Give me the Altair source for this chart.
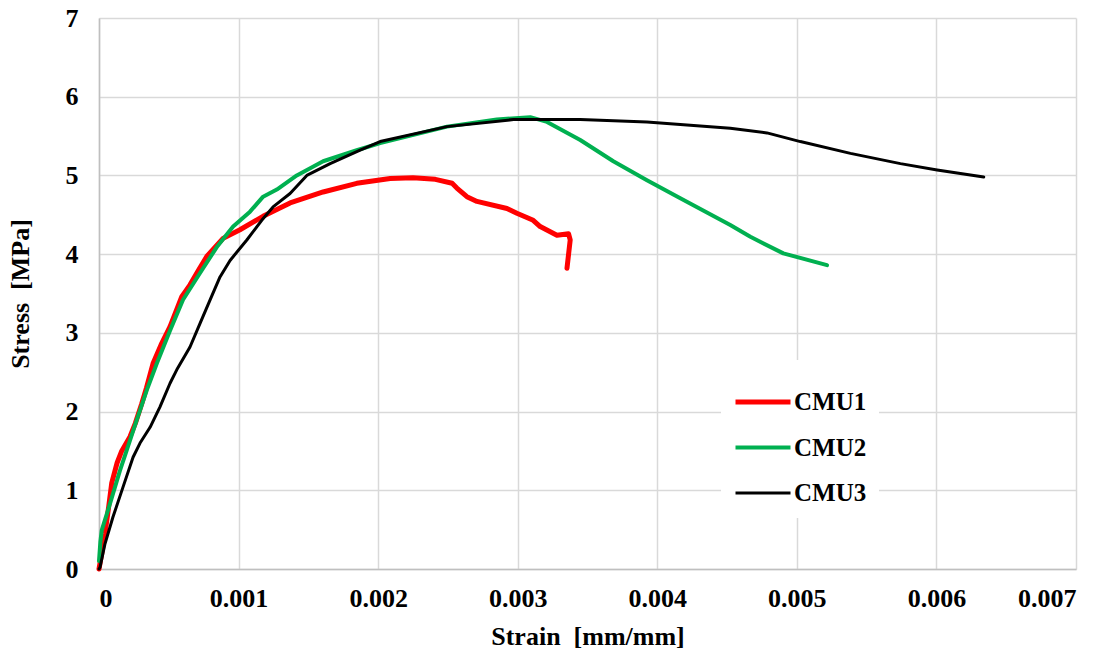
import altair as alt
import pandas as pd

# Stress-strain curves of three CMU prisms
cmu1_strain = [0, 0.00001, 0.00002, 0.000043, 0.00007, 0.000091, 0.00013, 0.000163, 0.000222,
               0.00026, 0.000306, 0.00034, 0.000387, 0.000445, 0.000509, 0.000593, 0.000652,
               0.000715, 0.000772, 0.000889, 0.00101, 0.001175, 0.001369, 0.001606, 0.001847,
               0.002086, 0.00225, 0.00241, 0.00253, 0.002564, 0.002636, 0.002708, 0.002923,
               0.002994, 0.003111, 0.003161, 0.003281, 0.003364, 0.003376, 0.003353]
cmu1_stress = [0, 0.1, 0.2, 0.45, 0.8, 1.09, 1.35, 1.5, 1.68,
               1.85, 2.1, 2.3, 2.61, 2.85, 3.08, 3.46, 3.61,
               3.8, 3.97, 4.2, 4.31, 4.48, 4.65, 4.79, 4.9,
               4.96, 4.97, 4.95, 4.9, 4.84, 4.73, 4.67, 4.58,
               4.52, 4.43, 4.35, 4.24, 4.26, 4.18, 3.82]

cmu2_strain = [0, 0.00001, 0.0000194, 0.0000789, 0.00015, 0.000199, 0.00027, 0.000342, 0.000414,
               0.000509, 0.000602, 0.000724, 0.000844, 0.000961, 0.001082, 0.001176, 0.001274,
               0.001417, 0.001606, 0.001847, 0.002014, 0.002493, 0.00285, 0.00309, 0.00321,
               0.003448, 0.003685, 0.003926, 0.004165, 0.004523, 0.004667, 0.004903, 0.005216]
cmu2_stress = [0.1, 0.35, 0.49, 0.83, 1.25, 1.51, 1.89, 2.27, 2.61,
               3.03, 3.42, 3.76, 4.09, 4.35, 4.54, 4.73, 4.82,
               5.0, 5.18, 5.32, 5.41, 5.62, 5.71, 5.74, 5.68,
               5.45, 5.18, 4.94, 4.71, 4.37, 4.22, 4.01, 3.86]

cmu3_strain = [0, 0.0000072, 0.000043, 0.0001, 0.000172, 0.000244, 0.000294, 0.000366, 0.000437,
               0.000509, 0.000557, 0.000652, 0.000724, 0.000796, 0.000867, 0.000939, 0.001059,
               0.001166, 0.001247, 0.001369, 0.001489, 0.001656, 0.001871, 0.002014, 0.002493,
               0.00297, 0.003448, 0.003926, 0.004523, 0.004786, 0.005025, 0.005384, 0.005742,
               0.006005, 0.006339]
cmu3_stress = [0, 0.02, 0.32, 0.66, 1.04, 1.42, 1.6, 1.8, 2.06,
               2.36, 2.53, 2.82, 3.12, 3.42, 3.71, 3.92, 4.18,
               4.43, 4.6, 4.77, 5.0, 5.15, 5.32, 5.43, 5.62,
               5.71, 5.71, 5.68, 5.6, 5.54, 5.43, 5.28, 5.15,
               5.07, 4.98]

series_names = ["CMU1", "CMU2", "CMU3"]
series_colors = ["#ff0000", "#00b050", "#000000"]
series_widths = [5, 3, 3]

x_ticks = [0, 0.001, 0.002, 0.003, 0.004, 0.005, 0.006, 0.007]
y_ticks = [0, 1, 2, 3, 4, 5, 6, 7]

rows = []
for name, xs, ys in zip(series_names,
                        [cmu1_strain, cmu2_strain, cmu3_strain],
                        [cmu1_stress, cmu2_stress, cmu3_stress]):
    for i, (sx, sy) in enumerate(zip(xs, ys)):
        rows.append({"series": name, "strain": sx, "stress": sy, "idx": i})
df = pd.DataFrame(rows)

FONT = "Liberation Serif, Times New Roman, serif"

legend = alt.Legend(
    title=None, orient="none", legendX=622, legendY=342,
    symbolType="stroke", symbolSize=3025, fillColor="white",
    padding=12, labelFont=FONT, labelFontSize=25, labelFontWeight="bold",
    labelColor="black", labelOffset=1, rowPadding=3,
)

chart = alt.Chart(df).mark_line(strokeCap="round", strokeJoin="round").encode(
    x=alt.X("strain:Q",
            scale=alt.Scale(domain=[0, 0.007], nice=False, zero=True),
            axis=alt.Axis(values=x_ticks, title="Strain\u00a0\u00a0[mm/mm]",
                          labelExpr="datum.value == 0 ? '0' : format(datum.value, '.3f')",
                          labelPadding=16, titlePadding=12)),
    y=alt.Y("stress:Q",
            scale=alt.Scale(domain=[0, 7], nice=False),
            axis=alt.Axis(values=y_ticks, title="Stress\u00a0\u00a0[MPa]",
                          labelPadding=21, titlePadding=32)),
    color=alt.Color("series:N", scale=alt.Scale(domain=series_names, range=series_colors),
                    legend=legend),
    strokeWidth=alt.StrokeWidth("series:N",
                                scale=alt.Scale(domain=series_names, range=series_widths),
                                legend=legend),
    order=alt.Order("idx:Q"),
).properties(
    width=977, height=551,
    autosize=alt.AutoSizeParams(type="none"),
    padding={"left": 99, "top": 18, "right": 39, "bottom": 87},
).configure_view(
    stroke="transparent"
).configure_axis(
    grid=True, gridColor="#d9d9d9", gridWidth=1.5,
    domainColor="#bfbfbf", domainWidth=1.5, ticks=False,
    labelFont=FONT, labelFontSize=26, labelFontWeight="bold", labelColor="black",
    titleFont=FONT, titleFontSize=26, titleFontWeight="bold", titleColor="black",
)

chart.save("out.html", embed_options={"renderer": "svg", "actions": False})
